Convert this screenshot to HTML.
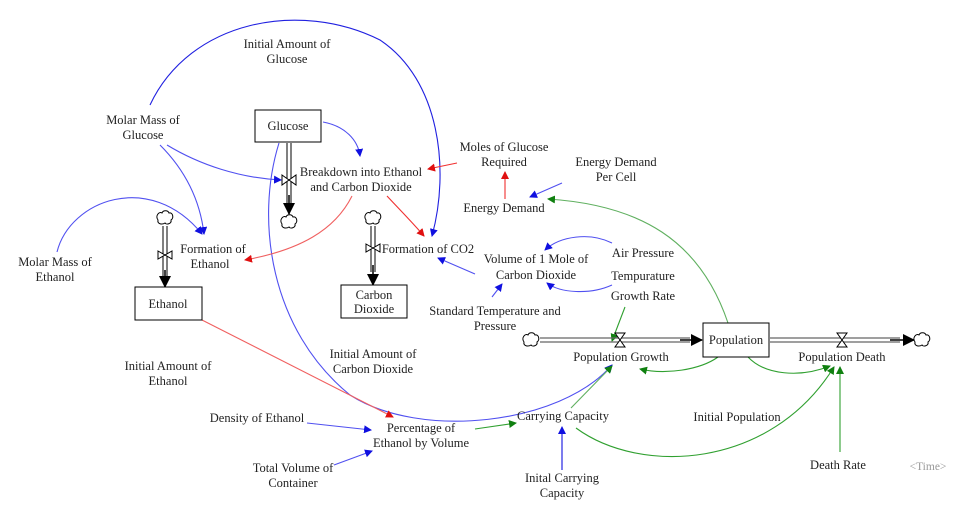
<!DOCTYPE html>
<html><head><meta charset="utf-8"><style>
body{margin:0;background:#fff}
svg{display:block}
text{font-family:"Liberation Serif",serif;font-size:12.5px;fill:#222;text-anchor:middle}
</style></head><body>
<svg width="961" height="509" viewBox="0 0 961 509" xmlns="http://www.w3.org/2000/svg">
<defs>
<marker id="ab" markerWidth="8" markerHeight="8" refX="7" refY="4" orient="auto" markerUnits="userSpaceOnUse"><path d="M0,0 L8,4 L0,8 Z" fill="#1010e0"/></marker>
<marker id="ar" markerWidth="8" markerHeight="8" refX="7" refY="4" orient="auto" markerUnits="userSpaceOnUse"><path d="M0,0 L8,4 L0,8 Z" fill="#e01010"/></marker>
<marker id="ag" markerWidth="8" markerHeight="8" refX="7" refY="4" orient="auto" markerUnits="userSpaceOnUse"><path d="M0,0 L8,4 L0,8 Z" fill="#108010"/></marker>
<marker id="ak" markerWidth="12" markerHeight="12" refX="11" refY="6" orient="auto" markerUnits="userSpaceOnUse"><path d="M0,0 L12,6 L0,12 Z" fill="#000"/></marker>
<g id="cloud"><path d="M-7,2 C-10,-2 -6,-7 -3,-5 C-2,-8 3,-8 4,-5 C8,-6 9,0 6,2 C7,6 1,7 0,5 C-3,7 -8,6 -7,2 Z" fill="#fff" stroke="#000" stroke-width="1"/></g>
</defs>

<!-- blue connectors -->
<g fill="none" stroke="#5050f0" stroke-width="1.1">
<path d="M150,105 C190,20 300,0 380,40 C440,80 450,170 432,236" stroke="#2020e0" marker-end="url(#ab)"/>
<path d="M167,145 C200,165 240,178 281,180" marker-end="url(#ab)"/>
<path d="M160,145 C185,170 200,200 204,234" marker-end="url(#ab)"/>
<path d="M57,252 C70,200 150,170 202,234" marker-end="url(#ab)"/>
<path d="M323,122 C345,126 358,140 360,156" marker-end="url(#ab)"/>
<path d="M279,143 C255,220 270,330 350,395 C420,440 560,425 612,365" marker-end="url(#ab)"/>
<path d="M562,183 L530,197" marker-end="url(#ab)"/>
<path d="M475,274 L438,258" marker-end="url(#ab)"/>
<path d="M612,243 C590,232 560,236 545,250" marker-end="url(#ab)"/>
<path d="M612,285 C590,295 560,293 547,283" marker-end="url(#ab)"/>
<path d="M492,297 L502,284" marker-end="url(#ab)"/>
<path d="M307,423 L371,430" marker-end="url(#ab)"/>
<path d="M334,465 L372,451" marker-end="url(#ab)"/>
<path d="M562,470 L562,427" stroke="#1010e0" marker-end="url(#ab)"/>
</g>
<!-- red -->
<g fill="none" stroke="#f03030" stroke-width="1.1">
<path d="M457,163 L428,169" marker-end="url(#ar)"/>
<path d="M352,196 C335,230 300,250 245,260" stroke="#f06060" marker-end="url(#ar)"/>
<path d="M387,196 C400,210 412,222 424,236" marker-end="url(#ar)"/>
<path d="M505,199 L505,172" marker-end="url(#ar)"/>
<path d="M202,320 L393,417" stroke="#f06060" marker-end="url(#ar)"/>
</g>
<!-- green -->
<g fill="none" stroke="#30a030" stroke-width="1.1">
<path d="M728,323 C700,240 640,205 548,199" stroke="#60b060" marker-end="url(#ag)"/>
<path d="M625,307 L612,341" marker-end="url(#ag)"/>
<path d="M475,429 L516,423" marker-end="url(#ag)"/>
<path d="M571,408 L612,366" stroke="#60b060" marker-end="url(#ag)"/>
<path d="M718,357 C700,370 665,375 640,369" marker-end="url(#ag)"/>
<path d="M748,357 C765,375 800,378 830,366" marker-end="url(#ag)"/>
<path d="M576,428 C640,475 770,470 834,367" marker-end="url(#ag)"/>
<path d="M840,452 L840,367" marker-end="url(#ag)"/>
</g>

<!-- flows -->
<g stroke="#000" fill="none">
<path d="M287,143 V205 M291,143 V205" stroke-width="1"/>
<path d="M289,195 V214" stroke-width="1.5" marker-end="url(#ak)"/>
<path d="M163,226 V278 M167,226 V278" stroke-width="1"/>
<path d="M165,270 V287" stroke-width="1.5" marker-end="url(#ak)"/>
<path d="M371,226 V272 M375,226 V272" stroke-width="1"/>
<path d="M373,265 V285" stroke-width="1.5" marker-end="url(#ak)"/>
<path d="M540,338 H690 M540,342 H690" stroke="#666" stroke-width="1.2"/>
<path d="M680,340 H702" stroke-width="1.5" marker-end="url(#ak)"/>
<path d="M770,338 H900 M770,342 H900" stroke="#666" stroke-width="1.2"/>
<path d="M890,340 H914" stroke-width="1.5" marker-end="url(#ak)"/>
</g>
<!-- valves -->
<g fill="#fff" stroke="#000" stroke-width="1">
<path d="M282,175 L296,185 L296,175 L282,185 Z"/>
<path d="M158,251 L172,259 L172,251 L158,259 Z"/>
<path d="M366,244 L380,252 L380,244 L366,252 Z"/>
<path d="M615,333 L625,333 L615,347 L625,347 Z"/>
<path d="M837,333 L847,333 L837,347 L847,347 Z"/>
</g>
<use href="#cloud" x="289" y="222"/>
<use href="#cloud" x="165" y="218"/>
<use href="#cloud" x="373" y="218"/>
<use href="#cloud" x="531" y="340"/>
<use href="#cloud" x="922" y="340"/>

<!-- boxes -->
<g fill="#fff" stroke="#000" stroke-width="1">
<rect x="255" y="110" width="66" height="32"/>
<rect x="135" y="287" width="67" height="33"/>
<rect x="341" y="285" width="66" height="33"/>
<rect x="703" y="323" width="66" height="34"/>
</g>

<text x="288" y="130">Glucose</text>
<text x="168" y="308">Ethanol</text>
<text x="374" y="299">Carbon</text><text x="374" y="313">Dioxide</text>
<text x="736" y="344">Population</text>
<text x="287" y="48">Initial Amount of</text><text x="287" y="63">Glucose</text>
<text x="143" y="124">Molar Mass of</text><text x="143" y="139">Glucose</text>
<text x="361" y="176">Breakdown into Ethanol</text><text x="361" y="191">and Carbon Dioxide</text>
<text x="504" y="151">Moles of Glucose</text><text x="504" y="166">Required</text>
<text x="616" y="166">Energy Demand</text><text x="616" y="181">Per Cell</text>
<text x="504" y="212">Energy Demand</text>
<text x="55" y="266">Molar Mass of</text><text x="55" y="281">Ethanol</text>
<text x="213" y="253">Formation of</text><text x="210" y="268">Ethanol</text>
<text x="428" y="253">Formation of CO2</text>
<text x="536" y="263">Volume of 1 Mole of</text><text x="536" y="279">Carbon Dioxide</text>
<text x="643" y="257">Air Pressure</text>
<text x="643" y="280">Tempurature</text>
<text x="643" y="300">Growth Rate</text>
<text x="495" y="315">Standard Temperature and</text><text x="495" y="330">Pressure</text>
<text x="621" y="361">Population Growth</text>
<text x="842" y="361">Population Death</text>
<text x="168" y="370">Initial Amount of</text><text x="168" y="385">Ethanol</text>
<text x="373" y="358">Initial Amount of</text><text x="373" y="373">Carbon Dioxide</text>
<text x="257" y="422">Density of Ethanol</text>
<text x="421" y="432">Percentage of</text><text x="421" y="447">Ethanol by Volume</text>
<text x="563" y="420">Carrying Capacity</text>
<text x="737" y="421">Initial Population</text>
<text x="293" y="472">Total Volume of</text><text x="293" y="487">Container</text>
<text x="562" y="482">Inital Carrying</text><text x="562" y="497">Capacity</text>
<text x="838" y="469">Death Rate</text>
<text x="928" y="470" style="fill:#999;font-size:11.5px">&lt;Time&gt;</text>
</svg>
</body></html>
